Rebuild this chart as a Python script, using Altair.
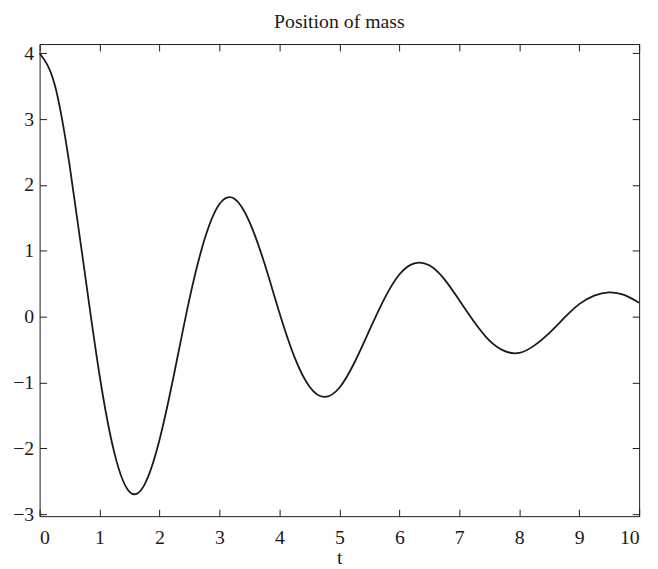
import altair as alt
import pandas as pd

# Time samples (s) and mass position
t_values = [0.00, 0.25, 0.50, 0.75, 1.00, 1.25, 1.50, 1.75, 2.00, 2.25,
            2.50, 2.75, 3.00, 3.25, 3.50, 3.75, 4.00, 4.25, 4.50, 4.75,
            5.00, 5.25, 5.50, 5.75, 6.00, 6.25, 6.50, 6.75, 7.00, 7.25,
            7.50, 7.75, 8.00, 8.25, 8.50, 8.75, 9.00, 9.25, 9.50, 9.75,
            10.00]
position = [4.00, 3.53, 2.30, 0.69, -0.89, -2.08, -2.66, -2.55, -1.87, -0.84,
            0.27, 1.17, 1.71, 1.79, 1.44, 0.81, 0.06, -0.61, -1.06, -1.22,
            -1.08, -0.70, -0.21, 0.27, 0.64, 0.81, 0.78, 0.57, 0.25, -0.08,
            -0.36, -0.52, -0.55, -0.44, -0.25, -0.02, 0.19, 0.32, 0.37, 0.33,
            0.21]

x_ticks = [0, 1, 2, 3, 4, 5, 6, 7, 8, 9, 10]
y_ticks = [-3, -2, -1, 0, 1, 2, 3, 4]
x_domain = [0, 10]
y_domain = [-3.03, 4.14]

df = pd.DataFrame({"t": t_values, "position": position})

FONT = "Liberation Serif"
INK = "#1a1a1a"
TICK = 7

common_axis = dict(domain=False, grid=False, tickSize=TICK, tickColor=INK,
                   tickWidth=1, offset=-TICK)

line = alt.Chart(df).mark_line(color=INK, strokeWidth=1.8, interpolate="natural").encode(
    x=alt.X("t:Q",
            scale=alt.Scale(domain=x_domain, nice=False, zero=False),
            axis=alt.Axis(orient="bottom", values=x_ticks, title="t",
                          labelFont=FONT, labelFontSize=20, labelColor=INK,
                          labelPadding=12, titleFont=FONT, titleFontSize=20,
                          titleFontWeight="normal", titleColor=INK,
                          titlePadding=0, **common_axis)),
    y=alt.Y("position:Q",
            scale=alt.Scale(domain=y_domain, nice=False, zero=False),
            axis=alt.Axis(orient="left", values=y_ticks, title=None,
                          labelFont=FONT, labelFontSize=20, labelColor=INK,
                          labelPadding=6, **common_axis)),
)

frame_ticks = alt.Chart(df).mark_line(opacity=0).encode(
    x=alt.X("t:Q", axis=alt.Axis(orient="top", values=x_ticks, labels=False,
                                 title=None, **common_axis)),
    y=alt.Y("position:Q", axis=alt.Axis(orient="right", values=y_ticks,
                                        labels=False, title=None, **common_axis)),
)

chart = alt.layer(line, frame_ticks).resolve_axis(
    x="independent", y="independent"
).properties(
    width=607,
    height=478,
    autosize="none",
    padding={"left": 32, "top": 33, "right": 11, "bottom": 50},
    title=alt.Title("Position of mass", font=FONT, fontSize=20,
                    fontWeight="normal", color=INK, anchor="middle",
                    baseline="bottom", offset=8, dy=16),
).configure(
    background="white",
    view=alt.ViewConfig(stroke=INK, strokeWidth=1),
)

chart.save("out.html", embed_options={"renderer": "svg", "actions": False})
